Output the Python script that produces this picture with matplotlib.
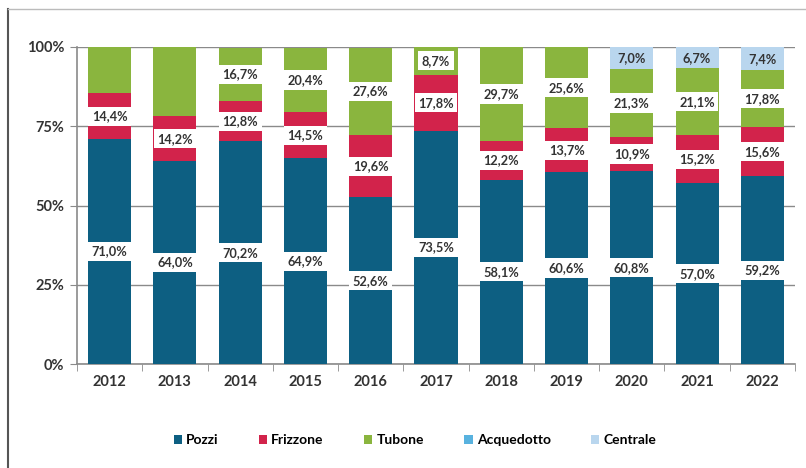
import matplotlib
matplotlib.use("Agg")
import matplotlib.pyplot as plt
from matplotlib.lines import Line2D
from matplotlib.patches import Patch
import numpy as np

years = ["2012", "2013", "2014", "2015", "2016", "2017", "2018", "2019", "2020", "2021", "2022"]
pozzi = [71.0, 64.0, 70.2, 64.9, 52.6, 73.5, 58.1, 60.6, 60.8, 57.0, 59.2]
frizzone = [14.4, 14.2, 12.8, 14.5, 19.6, 17.8, 12.2, 13.7, 10.9, 15.2, 15.6]
tubone = [14.6, 21.8, 16.7, 20.4, 27.6, 8.7, 29.7, 25.6, 21.3, 21.1, 17.8]
acquedotto = [0, 0, 0, 0, 0, 0, 0, 0, 0, 0, 0]
centrale = [0, 0, 0, 0, 0, 0, 0, 0, 7.0, 6.7, 7.4]
tubone_labeled = [False, False, True, True, True, True, True, True, True, True, True]

series = [
    ("Pozzi", pozzi, "#0d5f82"),
    ("Frizzone", frizzone, "#d2234b"),
    ("Tubone", tubone, "#8ab53e"),
    ("Acquedotto", acquedotto, "#58b2df"),
    ("Centrale", centrale, "#b9d6ee"),
]

plt.rcParams['font.family'] = ['Lato', 'DejaVu Sans']

fig = plt.figure(figsize=(8.06, 4.68), dpi=100)
ax = fig.add_axes([77/806, (468-364)/468, (795-77)/806, (364-47)/468])

x = np.arange(len(years))
bottom = np.zeros(len(years))
for name, vals, col in series:
    v = np.array(vals, dtype=float)
    ax.bar(x, v, bottom=bottom, width=0.66, color=col, zorder=3, label=name)
    for i in range(len(years)):
        if v[i] <= 0:
            continue
        if name == "Tubone" and not tubone_labeled[i]:
            continue
        txt = f"{v[i]:.1f}%".replace(".", ",")
        bb = None if name == "Centrale" else dict(boxstyle="square,pad=0.28", fc="white", ec="none")
        ax.text(x[i], bottom[i] + v[i]/2, txt, ha="center", va="center",
                fontsize=9.2, fontweight="bold", color="#333333", zorder=5, bbox=bb)
    bottom += v

ax.set_xlim(-0.5, len(years) - 0.5)
ax.set_ylim(0, 100)
ax.set_yticks([0, 25, 50, 75, 100])
ax.set_yticklabels(["0%", "25%", "50%", "75%", "100%"], fontsize=10.5, color="#333333", fontweight="bold")
ax.yaxis.grid(True, color="#8a8a8a", linewidth=1.0, zorder=0)
ax.set_xticks(x)
ax.set_xticklabels(years, fontsize=10.5, fontweight="bold", color="#333333")
ax.tick_params(axis="x", length=0, pad=8)
ax.tick_params(axis="y", length=5, color="#8a8a8a", pad=4)
ax.set_xticks(np.arange(-0.5, len(years)), minor=True)
ax.tick_params(axis="x", which="minor", length=5, color="#8a8a8a")
for s in ["top", "right"]:
    ax.spines[s].set_visible(False)
for s in ["left", "bottom"]:
    ax.spines[s].set_color("#8a8a8a")
    ax.spines[s].set_linewidth(1.2)

handles = [Patch(facecolor=c, edgecolor="none") for _, _, c in series]
labels = [n for n, _, _ in series]
fig.legend(handles, labels, loc="center", bbox_to_anchor=(415/806, 1 - 440/468), ncol=5,
           frameon=False, handlelength=0.6, handleheight=0.6,
           handletextpad=0.3, columnspacing=2.9, prop={"weight": "bold", "size": 10})

fig.add_artist(Line2D([8/806, 8/806], [0, 1 - 9/468], color="#555555", linewidth=1.5))
fig.add_artist(Line2D([8/806, 1], [1 - 9/468, 1 - 9/468], color="#bbbbbb", linewidth=1.0))

fig.savefig("out.png", dpi=100)
